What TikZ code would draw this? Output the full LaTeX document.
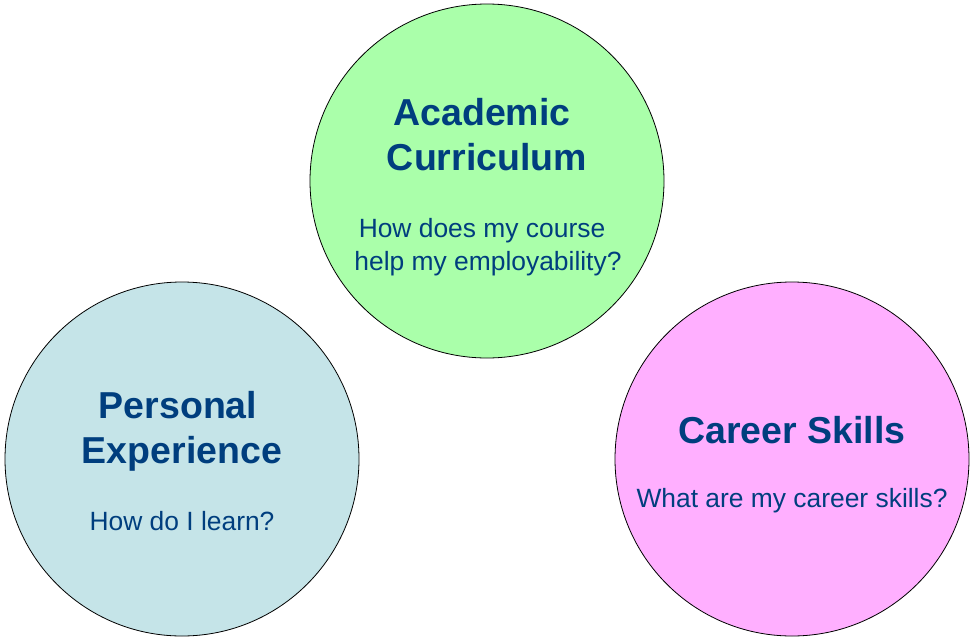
\documentclass[tikz,border=0pt]{standalone}
\usepackage{fontspec}
\setmainfont{Liberation Sans}
\usetikzlibrary{positioning}

\definecolor{titleblue}{RGB}{0,62,126}
\definecolor{acadgreen}{RGB}{170,255,170}
\definecolor{persblue}{RGB}{197,228,232}
\definecolor{careerpink}{RGB}{255,175,255}

\tikzset{
  bubble/.style={draw=black,line width=0.8pt,circle,inner sep=0pt,minimum size=354pt},
  heading/.style={anchor=base,text=titleblue,inner sep=0pt,font=\fontsize{37.5}{45}\selectfont\bfseries},
  question/.style={anchor=base,text=titleblue,inner sep=0pt,font=\fontsize{26.4}{32}\selectfont}
}

\begin{document}
\begin{tikzpicture}[x=1pt,y=-1pt]
    % Fix the page size
    \useasboundingbox (0,0) rectangle (971,637);

    % Draw circles
    \node[bubble,fill=acadgreen] (acad) at (487,181) {};
    \node[bubble,fill=persblue] (pers) at (182,459) {};
    \node[bubble,fill=careerpink] (career) at (792,459) {};

    % Academic curriculum text
    \node[heading] (acadtitleA) at (482,125) {Academic};
    \node[heading] (acadtitleB) at (487,170) {Curriculum};
    \node[question] (acadqA) at (482,237) {How does my course};
    \node[question] (acadqB) at (488,270) {help my employability?};

    % Personal experience text
    \node[heading] (perstitleA) at (178,418) {Personal};
    \node[heading] (perstitleB) at (182,463) {Experience};
    \node[question] (persq) at (182,530) {How do I learn?};

    % Career skills text
    \node[heading] (careertitle) at (792,443) {Career Skills};
    \node[question] (careerq) at (792,507) {What are my career skills?};
\end{tikzpicture}
\end{document}
